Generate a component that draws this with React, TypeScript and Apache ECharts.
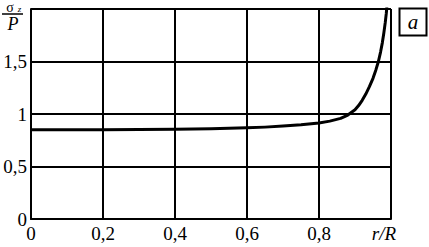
import React, { useEffect, useRef } from "react";
import * as echarts from "echarts";

const rValues = [0, 0.1, 0.2, 0.3, 0.4, 0.5, 0.6, 0.65, 0.7, 0.75, 0.8, 0.83, 0.86, 0.88, 0.9, 0.91, 0.92, 0.93, 0.94, 0.95, 0.958, 0.965, 0.971, 0.976, 0.98, 0.984, 0.987, 0.99];
const sigmaValues = [0.85, 0.85, 0.85, 0.852, 0.855, 0.86, 0.868, 0.875, 0.885, 0.897, 0.915, 0.932, 0.958, 0.99, 1.04, 1.08, 1.13, 1.19, 1.26, 1.34, 1.42, 1.5, 1.59, 1.68, 1.77, 1.87, 1.96, 2.08];
const xTickLabels = ["0", "0,2", "0,4", "0,6", "0,8", "r/R"];
const yTickLabels = ["0", "0,5", "1", "1,5", ""];

const FONT = "Liberation Serif, serif";

export default function App() {
  const ref = useRef<HTMLDivElement>(null);
  useEffect(() => {
    if (!ref.current) return;
    const chart = echarts.init(ref.current, null, { renderer: "svg" });
    const data = rValues.map((r, i) => [r, sigmaValues[i]]);
    chart.setOption({
      animation: false,
      backgroundColor: "#fff",
      textStyle: { fontFamily: FONT },
      grid: { left: 31, right: 38, top: 9, bottom: 28, containLabel: false },
      xAxis: {
        type: "value",
        min: 0,
        max: 1,
        interval: 0.2,
        axisLine: { show: true, onZero: false, lineStyle: { color: "#000", width: 2 } },
        axisTick: { show: false },
        splitLine: { show: true, lineStyle: { color: "#000", width: 2 } },
        axisLabel: {
          margin: 5,
          color: "#000",
          fontFamily: FONT,
          fontSize: 19,
          showMaxLabel: true,
          formatter: (v: number) => {
            const i = Math.round(v / 0.2);
            const t = xTickLabels[i] ?? "";
            return i === 5 ? "{it|" + t + "}" : t;
          },
          rich: {
            it: { fontFamily: FONT, fontSize: 19, fontStyle: "italic", color: "#000", padding: [0, 14, 0, 0] },
          },
        },
      },
      yAxis: {
        type: "value",
        min: 0,
        max: 2,
        interval: 0.5,
        axisLine: { show: true, lineStyle: { color: "#000", width: 2 } },
        axisTick: { show: false },
        splitLine: { show: true, lineStyle: { color: "#000", width: 2 } },
        axisLabel: {
          margin: 4,
          color: "#000",
          fontFamily: FONT,
          fontSize: 19,
          formatter: (v: number) => yTickLabels[Math.round(v / 0.5)] ?? "",
        },
      },
      series: [
        {
          type: "line",
          data,
          smooth: false,
          showSymbol: false,
          clip: true,
          lineStyle: { color: "#000", width: 3, join: "round" },
        },
      ],
      graphic: [
        { type: "text", x: 10, y: 7.5, style: { text: "σ", fontFamily: FONT, fontSize: 14, fill: "#000", align: "center", verticalAlign: "middle" } },
        { type: "text", x: 19.5, y: 9, style: { text: "z", fontFamily: FONT, fontSize: 9, fontStyle: "italic", fill: "#000", align: "center", verticalAlign: "middle" } },
        { type: "line", shape: { x1: 2, y1: 14, x2: 23, y2: 14 }, style: { stroke: "#000", lineWidth: 1.5 } },
        { type: "text", x: 13, y: 24, style: { text: "P", fontFamily: FONT, fontSize: 18, fontStyle: "italic", fill: "#000", align: "center", verticalAlign: "middle" } },
        { type: "rect", shape: { x: 399.5, y: 8.5, width: 27, height: 27 }, style: { fill: "#fff", stroke: "#000", lineWidth: 2 } },
        { type: "text", x: 413, y: 22, style: { text: "a", fontFamily: FONT, fontSize: 21, fontStyle: "italic", fill: "#000", align: "center", verticalAlign: "middle" } },
      ],
    });
    return () => chart.dispose();
  }, []);
  return <div ref={ref} style={{ position: "fixed", left: 0, top: 0, width: 429, height: 247 }} />;
}
